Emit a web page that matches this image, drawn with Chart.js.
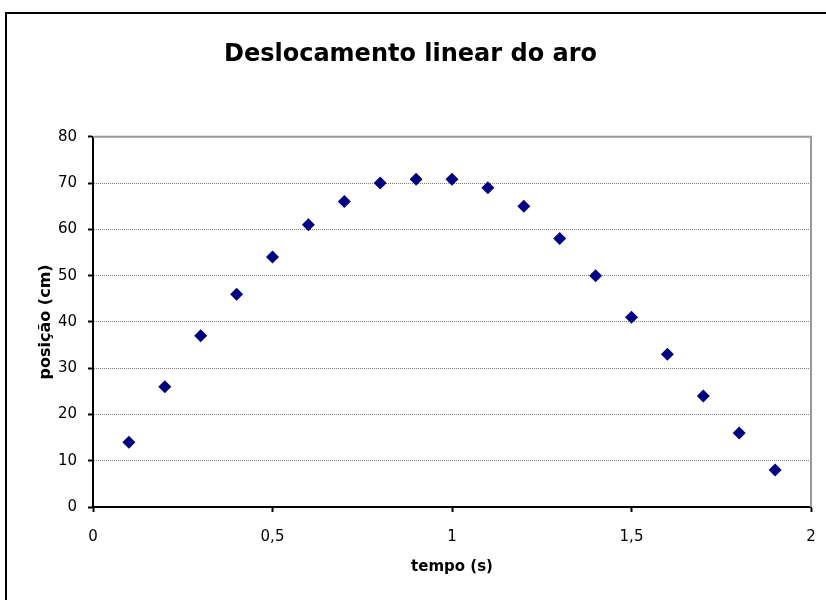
<!DOCTYPE html>
<html>
<head>
<meta charset="utf-8">
<script src="https://cdn.jsdelivr.net/npm/chart.js@4/dist/chart.umd.min.js"></script>
<style>
  html, body { margin: 0; padding: 0; background: #ffffff; }
  #wrap { position: relative; width: 826px; height: 600px; }
</style>
</head>
<body>
<div id="wrap"><canvas id="chart" width="826" height="600"></canvas></div>
<script>
// dados
const tempo = [0.1, 0.2, 0.3, 0.4, 0.5, 0.6, 0.7, 0.8, 0.9, 1.0, 1.1, 1.2, 1.3, 1.4, 1.5, 1.6, 1.7, 1.8, 1.9];
const posicao = [14, 26, 37, 46, 54, 61, 66, 70, 70.8, 70.8, 69, 65, 58, 50, 41, 33, 24, 16, 8];
const xTicks = [0, 0.5, 1, 1.5, 2];
const xTickLabels = ['0', '0,5', '1', '1,5', '2'];
const yTicks = [0, 10, 20, 30, 40, 50, 60, 70, 80];

const FONT = "'DejaVu Sans', sans-serif";

// moldura externa e borda cinza da área de plotagem
const framePlugin = {
    id: 'frame',
    beforeDraw(chart) {
        const ctx = chart.ctx;
        ctx.save();
        ctx.fillStyle = '#ffffff';
        ctx.fillRect(0, 0, chart.width, chart.height);
        ctx.strokeStyle = '#000000';
        ctx.lineWidth = 2;
        ctx.strokeRect(6, 13, chart.width + 20, chart.height + 20);
        ctx.restore();
    },
    beforeDatasetsDraw(chart) {
        const { ctx, chartArea: a } = chart;
        ctx.save();
        ctx.strokeStyle = '#999999';
        ctx.lineWidth = 2;
        ctx.beginPath();
        ctx.moveTo(a.left, a.top);
        ctx.lineTo(a.right, a.top);
        ctx.lineTo(a.right, a.bottom);
        ctx.stroke();
        ctx.restore();
    }
};

new Chart(document.getElementById('chart').getContext('2d'), {
    type: 'scatter',
    data: {
        datasets: [{
            data: tempo.map((t, i) => ({ x: t, y: posicao[i] })),
            pointStyle: 'rectRot',
            pointRadius: 6.5,
            pointHoverRadius: 6.5,
            backgroundColor: '#000080',
            borderColor: '#000080',
            borderWidth: 0
        }]
    },
    options: {
        responsive: false,
        animation: false,
        layout: { padding: { left: 10, right: 15, top: 0, bottom: 0 } },
        plugins: {
            legend: { display: false },
            tooltip: { enabled: false },
            title: {
                display: true,
                text: 'Deslocamento linear do aro',
                color: '#000000',
                font: { family: FONT, size: 24, weight: 'bold' },
                padding: { top: 40, bottom: 68 }
            }
        },
        scales: {
            x: {
                type: 'linear',
                min: 0,
                max: 2,
                afterFit: s => { s.height = 93; s.paddingLeft = 0; s.paddingRight = 0; },
                afterBuildTicks: s => { s.ticks = xTicks.map(v => ({ value: v })); },
                ticks: {
                    color: '#000000',
                    padding: 16,
                    maxRotation: 0,
                    font: { family: FONT, size: 15 },
                    callback: v => xTickLabels[xTicks.indexOf(v)]
                },
                grid: {
                    drawOnChartArea: false,
                    drawTicks: true,
                    tickLength: 5,
                    tickColor: '#000000',
                    tickWidth: 2
                },
                border: { display: true, color: '#000000', width: 2 },
                title: {
                    display: true,
                    text: 'tempo (s)',
                    color: '#000000',
                    font: { family: FONT, size: 15, weight: 'bold' },
                    padding: { top: 0, bottom: 24 }
                }
            },
            y: {
                type: 'linear',
                min: 0,
                max: 80,
                afterFit: s => { s.width = 83; },
                afterBuildTicks: s => { s.ticks = yTicks.map(v => ({ value: v })); },
                ticks: {
                    color: '#000000',
                    padding: 11,
                    font: { family: FONT, size: 15 }
                },
                grid: {
                    color: c => (c.tick && c.tick.value === 0) ? 'rgba(0,0,0,0)' : '#7f7f7f',
                    lineWidth: 1,
                    drawTicks: true,
                    tickLength: 5,
                    tickColor: '#000000',
                    tickWidth: 2
                },
                border: { display: true, color: '#000000', width: 2, dash: [1, 1] },
                title: {
                    display: true,
                    text: 'posição (cm)',
                    color: '#000000',
                    font: { family: FONT, size: 16, weight: 'bold' },
                    padding: { top: 26, bottom: 0 }
                }
            }
        }
    },
    plugins: [framePlugin]
});
</script>
</body>
</html>
